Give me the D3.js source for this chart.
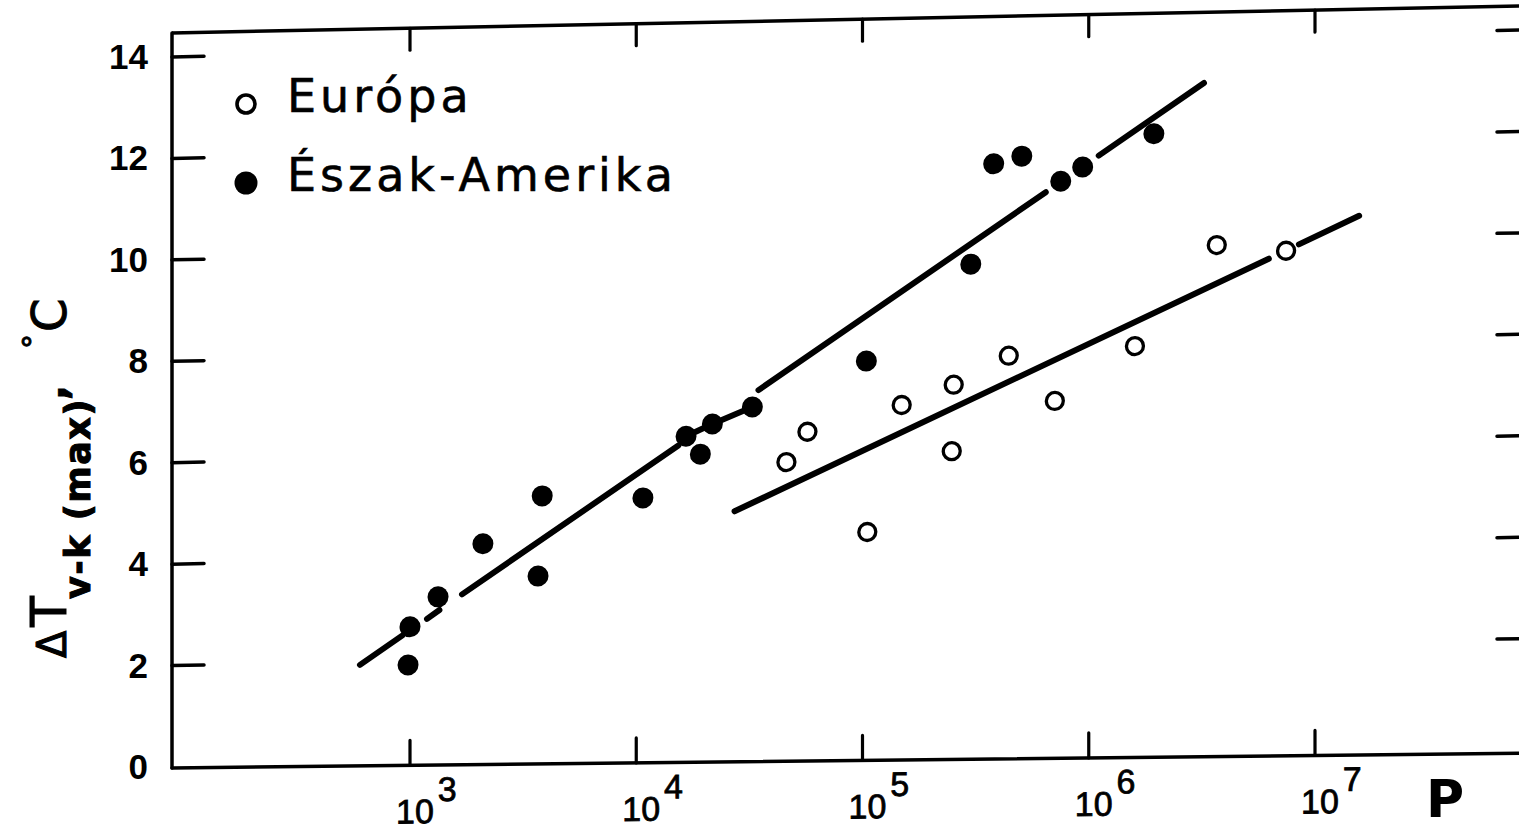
<!DOCTYPE html>
<html>
<head>
<meta charset="utf-8">
<script src="https://cdn.jsdelivr.net/npm/d3@7"></script>
<style>
  html, body { margin: 0; padding: 0; background: #fff; }
  svg { display: block; }
</style>
</head>
<body>
<svg id="chart" width="1519" height="832"></svg>
<script>
// Population (P) decades on the log axis and their exponent labels
const decades = [1e3, 1e4, 1e5, 1e6, 1e7];
const decadeExponents = ["3", "4", "5", "6", "7"];
// Temperature difference ticks, °C
const yTicks = [0, 2, 4, 6, 8, 10, 12, 14];
const yTickMarks = [2, 4, 6, 8, 10, 12, 14];

// Európa (open circles): city population and ΔT v-k (max)
const europeP = [46100, 57100, 105000, 149000, 248000, 253000, 443000, 708000, 1600000, 3680000, 7450000];
const europeT = [5.77, 6.36, 4.36, 6.85, 5.92, 7.23, 7.78, 6.87, 7.92, 9.88, 9.74];

// Észak-Amerika (filled circles)
const americaP = [980, 1000, 1330, 2100, 3680, 3840, 10700, 16600, 19200, 21700, 32600, 104000, 301000, 380000, 506000, 752000, 940000, 1940000];
const americaT = [1.92, 2.67, 3.25, 4.28, 3.62, 5.20, 5.12, 6.32, 5.96, 6.55, 6.87, 7.73, 9.60, 11.57, 11.71, 11.20, 11.47, 12.10];

// Fitted trend lines, drawn as broken pieces [P, ΔT]
const americaFit = [
  [[601, 1.94], [923, 2.50]],
  [[1189, 2.82], [1349, 2.99]],
  [[1698, 3.29], [15350, 6.14]],
  [[16600, 6.32], [21700, 6.55], [32600, 6.87]],
  [[34700, 7.20], [645700, 10.99]],
  [[1107000, 11.69], [3230000, 13.08]]
];
const europeFit = [
  [[27200, 4.82], [6250000, 9.59]],
  [[8490000, 9.86], [15670000, 10.40]]
];

const legendItems = [
  { label: "Európa", filled: false },
  { label: "Észak-Amerika", filled: true }
];

const svg = d3.select("#chart");

const x = d3.scaleLog().domain([1e3, 1e7]).range([410, 1315]);
const y = d3.scaleLinear().domain([0, 14]).range([767, 57]);

const X0 = 172, X1 = 1525, TOP = 33, BOTTOM = 768;
const K = 0.02, KB = 0.011;   // slight slant of the printed frame

const plot = svg.append("g")
  .attr("transform", `matrix(1,${-K},0,1,0,${K * X0})`);
const base = svg.append("g")
  .attr("transform", `matrix(1,${-KB},0,1,0,${KB * X0})`);

const ink = "#000";

// frame: left and top edges
plot.append("line").attr("x1", X0).attr("y1", TOP).attr("x2", X0).attr("y2", BOTTOM)
  .attr("stroke", ink).attr("stroke-width", 3.5).attr("stroke-linecap", "round");
plot.append("line").attr("x1", X0).attr("y1", TOP).attr("x2", X1).attr("y2", TOP)
  .attr("stroke", ink).attr("stroke-width", 3.5);

// inward ticks on left and right
plot.selectAll("line.ytl").data(yTickMarks).join("line")
  .attr("class", "ytl")
  .attr("x1", X0).attr("x2", X0 + 32)
  .attr("y1", d => y(d)).attr("y2", d => y(d))
  .attr("stroke", ink).attr("stroke-width", 3.5).attr("stroke-linecap", "round");
plot.selectAll("line.ytr").data(yTickMarks).join("line")
  .attr("class", "ytr")
  .attr("x1", X1 - 28).attr("x2", X1)
  .attr("y1", d => y(d)).attr("y2", d => y(d))
  .attr("stroke", ink).attr("stroke-width", 3.5).attr("stroke-linecap", "round");

// top ticks
plot.selectAll("line.xtt").data(decades).join("line")
  .attr("class", "xtt")
  .attr("x1", d => x(d)).attr("x2", d => x(d))
  .attr("y1", TOP).attr("y2", TOP + 22)
  .attr("stroke", ink).attr("stroke-width", 3.2).attr("stroke-linecap", "round");

// bottom axis
base.append("line").attr("x1", X0).attr("y1", BOTTOM).attr("x2", X1).attr("y2", BOTTOM)
  .attr("stroke", ink).attr("stroke-width", 3.5).attr("stroke-linecap", "round");
base.selectAll("line.xtb").data(decades).join("line")
  .attr("class", "xtb")
  .attr("x1", d => x(d)).attr("x2", d => x(d))
  .attr("y1", BOTTOM).attr("y2", BOTTOM - 25)
  .attr("stroke", ink).attr("stroke-width", 3.2).attr("stroke-linecap", "round");

// decade labels 10^n
const xl = base.selectAll("text.xl").data(decades).join("text")
  .attr("class", "xl")
  .attr("x", d => x(d) - 14)
  .attr("y", 826)
  .attr("font-family", "'Liberation Sans', Arial, sans-serif")
  .attr("font-size", 34)
  .attr("stroke", ink).attr("stroke-width", 0.8)
  .attr("fill", ink);
xl.append("tspan").text("10");
xl.append("tspan").attr("dx", 4).attr("dy", -22).text((d, i) => decadeExponents[i]);

// y tick labels
svg.selectAll("text.yl").data(yTicks).join("text")
  .attr("class", "yl")
  .attr("x", 148)
  .attr("y", d => y(d) + 12)
  .attr("text-anchor", "end")
  .attr("font-family", "'Liberation Sans', Arial, sans-serif")
  .attr("font-weight", "bold")
  .attr("font-size", 35)
  .attr("fill", ink)
  .text(d => d);

// trend lines
const line = d3.line().x(d => x(d[0])).y(d => y(d[1]));
plot.selectAll("path.fa").data(americaFit).join("path")
  .attr("class", "fa")
  .attr("d", line)
  .attr("fill", "none").attr("stroke", ink).attr("stroke-width", 6)
  .attr("stroke-linecap", "round").attr("stroke-linejoin", "round");
plot.selectAll("path.fe").data(europeFit).join("path")
  .attr("class", "fe")
  .attr("d", line)
  .attr("fill", "none").attr("stroke", ink).attr("stroke-width", 6)
  .attr("stroke-linecap", "round").attr("stroke-linejoin", "round");

// data points
plot.selectAll("circle.eu").data(europeP).join("circle")
  .attr("class", "eu")
  .attr("cx", d => x(d))
  .attr("cy", (d, i) => y(europeT[i]))
  .attr("r", 8.5)
  .attr("fill", "#fff").attr("stroke", ink).attr("stroke-width", 3.3);
plot.selectAll("circle.na").data(americaP).join("circle")
  .attr("class", "na")
  .attr("cx", d => x(d))
  .attr("cy", (d, i) => y(americaT[i]))
  .attr("r", 10.5)
  .attr("fill", ink);

// legend
const lg = svg.append("g");
legendItems.forEach((item, i) => {
  const cy = 104 + i * 79;
  lg.append("circle")
    .attr("cx", 246).attr("cy", cy)
    .attr("r", item.filled ? 11.5 : 9)
    .attr("fill", item.filled ? ink : "#fff")
    .attr("stroke", item.filled ? "none" : ink)
    .attr("stroke-width", 3.6);
  lg.append("text")
    .attr("x", 287).attr("y", cy + 8)
    .attr("font-family", "'DejaVu Sans', sans-serif")
    .attr("font-size", 46)
    .attr("letter-spacing", 4)
    .attr("stroke", ink).attr("stroke-width", 0.6)
    .attr("fill", ink)
    .text(item.label);
});

// y-axis title: ΔT v-k (max), °C
const yt = svg.append("text")
  .attr("transform", "translate(66,658) rotate(-90)")
  .attr("font-family", "'DejaVu Sans', sans-serif")
  .attr("stroke", ink).attr("stroke-width", 1)
  .attr("fill", ink);
yt.append("tspan").attr("font-size", 40).text("Δ");
yt.append("tspan").attr("font-size", 50).attr("dx", 4).text("T");
yt.append("tspan").attr("font-size", 35).attr("font-weight", "bold")
  .attr("letter-spacing", 1.5)
  .attr("dy", 24).attr("dx", -3).text("v-k (max)");
yt.append("tspan").attr("font-size", 40).attr("font-weight", "bold")
  .attr("dy", -24).attr("dx", -2).text(",");
yt.append("tspan").attr("font-size", 30).attr("dx", 36).attr("dy", -22).text("°");
yt.append("tspan").attr("font-size", 48).attr("dy", 22).attr("dx", 2).text("C");

// x-axis title
svg.append("text")
  .attr("x", 1426).attr("y", 817)
  .attr("font-family", "'DejaVu Sans', sans-serif")
  .attr("font-weight", "bold")
  .attr("font-size", 52)
  .attr("fill", ink)
  .text("P");
</script>
</body>
</html>
